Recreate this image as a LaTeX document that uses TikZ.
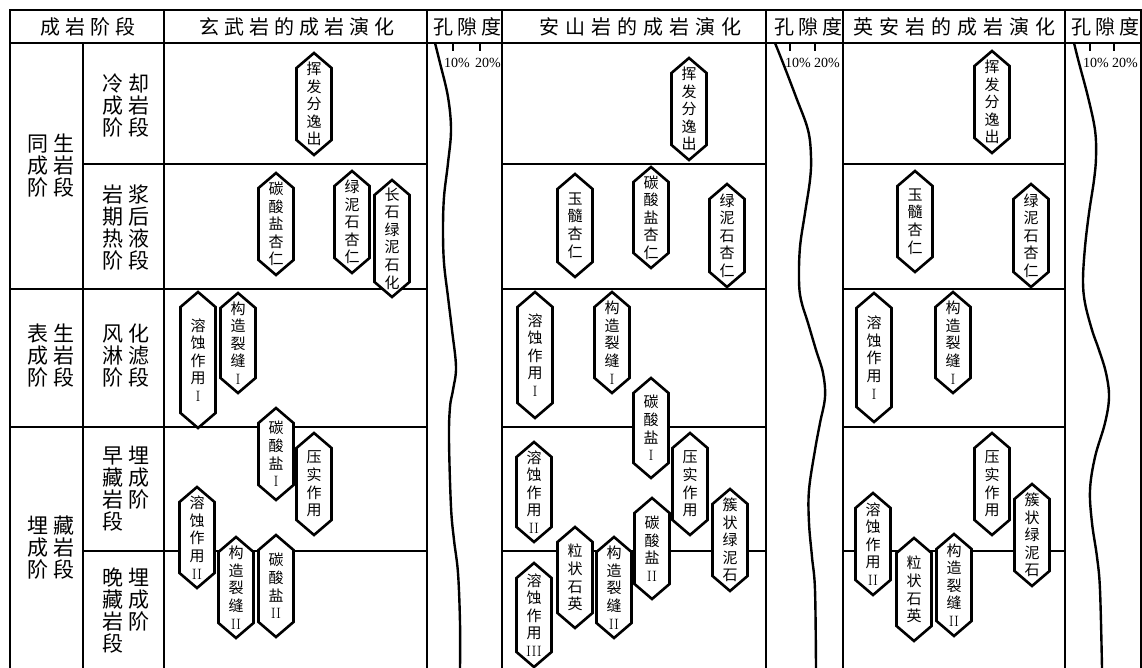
\documentclass[tikz,border=0pt]{standalone}
\usepackage{fontspec}
\newfontfamily\cjk{Noto Sans CJK SC}
\newfontfamily\numfont{Liberation Serif}
\usetikzlibrary{calc}

% hexagon label: name, x, top, bottom, text
\newcommand{\hexlabel}[5]{%
	\draw[hexline] (#2-17.5,#3+15) -- (#2,#3) -- (#2+17.5,#3+15) -- (#2+17.5,#4-15) -- (#2,#4) -- (#2-17.5,#4-15) -- cycle;
	\node[hextext] (#1) at (#2,{(#3+#4)/2}) {#5};
}

\begin{document}
\begin{tikzpicture}[x=1pt, y=-1pt,
	grid/.style={line width=2.5pt, line cap=rect},
	hexline/.style={fill=white, line width=2.6pt, line join=miter},
	hextext/.style={inner sep=0pt, align=center, font={\cjk\fontsize{15}{17.6}\selectfont}},
	head/.style={inner sep=0pt, font={\cjk\fontsize{20}{22}\selectfont\addfontfeature{LetterSpace=#1}}},
	stage/.style={inner sep=0pt, align=left, font={\cjk\fontsize{21}{22}\selectfont\addfontfeature{LetterSpace=20}}},
	pct/.style={inner sep=0pt, font={\numfont\fontsize{14}{14}\selectfont}},
	curve/.style={line width=2.4pt}]

	\useasboundingbox (0,0) rectangle (1142,668);

	% frame
	\draw[grid] (10,10) -- (1141,10);
	\draw[grid] (10,43) -- (1141,43);
	\foreach \x in {10,164,427,502,766,843,1065,1141}
		\draw[grid] (\x,10) -- (\x,668);
	\draw[grid] (83,43) -- (83,668);

	% rows
	\draw[grid] (10,289) -- (427,289);
	\draw[grid] (10,427) -- (427,427);
	\draw[grid] (83,164) -- (427,164);
	\draw[grid] (83,551) -- (427,551);
	\foreach \a/\b in {502/766, 843/1065} {
		\draw[grid] (\a,164) -- (\b,164);
		\draw[grid] (\a,289) -- (\b,289);
		\draw[grid] (\a,427) -- (\b,427);
		\draw[grid] (\a,551) -- (\b,551);
	}

	% headings
	\node[head=25] (h-stage) at (88,27) {成岩阶段};
	\node[head=25] (h-basalt) at (297,27) {玄武岩的成岩演化};
	\node[head=20] (h-por1) at (467,27) {孔隙度};
	\node[head=30] (h-andes) at (640,27) {安山岩的成岩演化};
	\node[head=20] (h-por2) at (808,27) {孔隙度};
	\node[head=30] (h-dacite) at (954,27) {英安岩的成岩演化};
	\node[head=20] (h-por3) at (1105,27) {孔隙度};

	\node[stage] (s-tong) at (51,166) {同生\\成岩\\阶段};
	\node[stage] (s-leng) at (126,106) {冷却\\成岩\\阶段};
	\node[stage] (s-yan) at (126,228) {岩浆\\期后\\热液\\阶段};
	\node[stage] (s-biao) at (51,356) {表生\\成岩\\阶段};
	\node[stage] (s-feng) at (126,356) {风化\\淋滤\\阶段};
	\node[stage] (s-mai) at (51,548) {埋藏\\成岩\\阶段};
	\node[stage] (s-zao) at (126,489) {早埋\\藏成\\岩阶\\段};
	\node[stage] (s-wan) at (126,611) {晚埋\\藏成\\岩阶\\段};

	% porosity scales
	\foreach \p/\u/\v/\lu/\lv in {1/453/480/457/488, 2/790/815/798/827, 3/1090/1114/1096/1125} {
		\draw[line width=2pt] (\u,43) -- (\u,51);
		\draw[line width=2pt] (\v,43) -- (\v,51);
		\node[pct] (ten-\p) at (\lu,63) {10\%};
		\node[pct] (twenty-\p) at (\lv,63) {20\%};
	}

	\draw[curve] plot[smooth, tension=0.6] coordinates {(435,43) (440,63) (448,97) (451,130) (448,163) (444,197) (443,230) (444,263) (448,297) (452,330) (456,367) (453,390) (450,407) (449,440) (451,507) (454,540) (458,573) (460,623) (460,668)};
	\draw[curve] plot[smooth, tension=0.6] coordinates {(775,43) (783,63) (796,97) (808,130) (811,157) (810,180) (805,213) (800,247) (799,280) (801,300) (808,323) (816,350) (823,373) (825,397) (820,423) (815,450) (809,490) (809,523) (812,557) (815,590) (816,668)};
	\draw[curve] plot[smooth, tension=0.6] coordinates {(1074,43) (1079,63) (1088,97) (1095,130) (1096,157) (1094,180) (1089,213) (1085,247) (1083,280) (1085,303) (1092,330) (1099,350) (1106,373) (1109,397) (1105,423) (1095,457) (1090,490) (1092,523) (1097,557) (1100,590) (1102,668)};

	% basalt
	\hexlabel{b-huifa}{314}{53}{155}{挥\\发\\分\\逸\\出}
	\hexlabel{b-tanxing}{276}{173}{275}{碳\\酸\\盐\\杏\\仁}
	\hexlabel{b-lvxing}{352}{171}{273}{绿\\泥\\石\\杏\\仁}
	\hexlabel{b-changshi}{392}{180}{297}{长\\石\\绿\\泥\\石\\化}
	\hexlabel{b-rong1}{198}{292}{428}{溶\\蚀\\作\\用\\\textrm{I}}
	\hexlabel{b-gou1}{238}{293}{393}{构\\造\\裂\\缝\\\textrm{I}}
	\hexlabel{b-tan1}{276}{408}{500}{碳\\酸\\盐\\\textrm{I}}
	\hexlabel{b-ya}{314}{433}{535}{压\\实\\作\\用}
	\hexlabel{b-rong2}{197}{487}{588}{溶\\蚀\\作\\用\\\textrm{II}}
	\hexlabel{b-gou2}{236}{537}{638}{构\\造\\裂\\缝\\\textrm{II}}
	\hexlabel{b-tan2}{276}{535}{637}{碳\\酸\\盐\\\textrm{II}}

	% andesite
	\hexlabel{a-huifa}{689}{58}{160}{挥\\发\\分\\逸\\出}
	\hexlabel{a-yusui}{575}{174}{277}{玉\\髓\\杏\\仁}
	\hexlabel{a-tanxing}{651}{167}{268}{碳\\酸\\盐\\杏\\仁}
	\hexlabel{a-lvxing}{727}{184}{287}{绿\\泥\\石\\杏\\仁}
	\hexlabel{a-rong1}{535}{292}{418}{溶\\蚀\\作\\用\\\textrm{I}}
	\hexlabel{a-gou1}{612}{292}{393}{构\\造\\裂\\缝\\\textrm{I}}
	\hexlabel{a-tan1}{651}{378}{478}{碳\\酸\\盐\\\textrm{I}}
	\hexlabel{a-ya}{690}{433}{535}{压\\实\\作\\用}
	\hexlabel{a-cu}{730}{489}{591}{簇\\状\\绿\\泥\\石}
	\hexlabel{a-rong2}{534}{442}{542}{溶\\蚀\\作\\用\\\textrm{II}}
	\hexlabel{a-li}{575}{527}{628}{粒\\状\\石\\英}
	\hexlabel{a-gou2}{614}{537}{638}{构\\造\\裂\\缝\\\textrm{II}}
	\hexlabel{a-tan2}{652}{498}{599}{碳\\酸\\盐\\\textrm{II}}
	\hexlabel{a-rong3}{534}{563}{667}{溶\\蚀\\作\\用\\\textrm{III}}

	% dacite
	\hexlabel{d-huifa}{992}{51}{153}{挥\\发\\分\\逸\\出}
	\hexlabel{d-yusui}{915}{171}{272}{玉\\髓\\杏\\仁}
	\hexlabel{d-lvxing}{1031}{184}{287}{绿\\泥\\石\\杏\\仁}
	\hexlabel{d-rong1}{874}{293}{422}{溶\\蚀\\作\\用\\\textrm{I}}
	\hexlabel{d-gou1}{953}{292}{393}{构\\造\\裂\\缝\\\textrm{I}}
	\hexlabel{d-ya}{992}{433}{535}{压\\实\\作\\用}
	\hexlabel{d-cu}{1032}{484}{586}{簇\\状\\绿\\泥\\石}
	\hexlabel{d-rong2}{873}{493}{595}{溶\\蚀\\作\\用\\\textrm{II}}
	\hexlabel{d-li}{914}{538}{641}{粒\\状\\石\\英}
	\hexlabel{d-gou2}{954}{534}{636}{构\\造\\裂\\缝\\\textrm{II}}

\end{tikzpicture}
\end{document}
